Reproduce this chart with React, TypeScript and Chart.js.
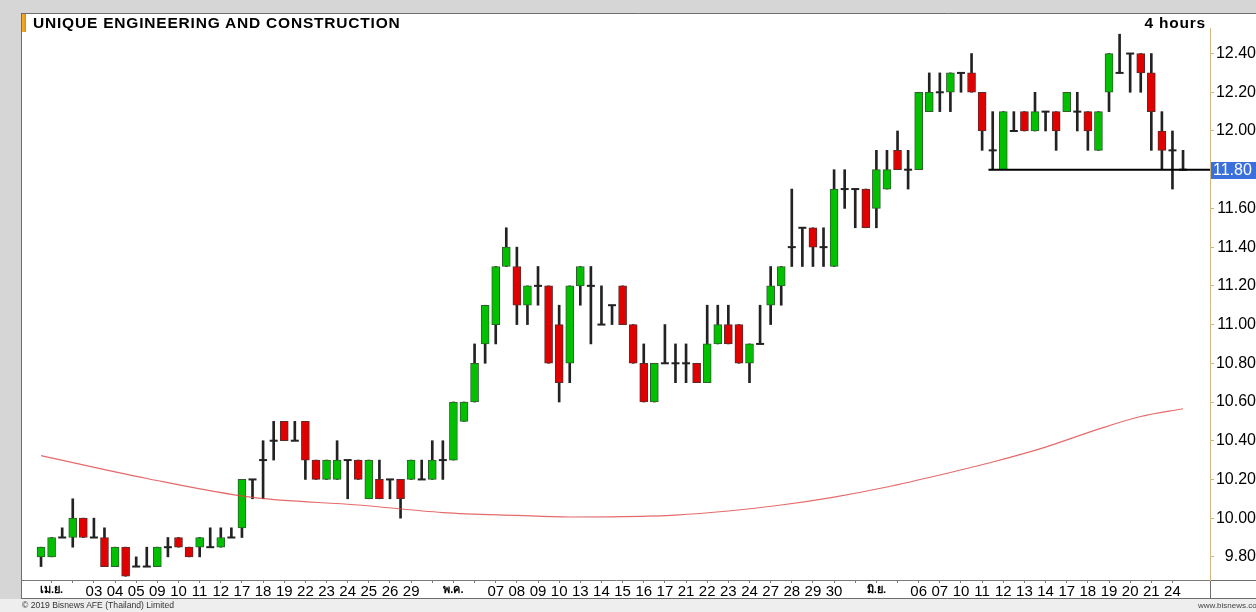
import React, { useEffect, useRef } from "react";
import { Chart, registerables } from "chart.js";

Chart.register(...registerables);

// ---- data (4-hour bars, THB) ----
const OPEN = [
  9.8, 9.8, 9.9, 9.9, 10.0, 9.9, 9.9, 9.75, 9.85, 9.75,
  9.75, 9.75, 9.85, 9.9, 9.85, 9.85, 9.85, 9.85, 9.9, 9.95,
  10.2, 10.3, 10.4, 10.5, 10.4, 10.5, 10.3, 10.2, 10.2, 10.3,
  10.3, 10.1, 10.2, 10.2, 10.2, 10.2, 10.2, 10.2, 10.3, 10.3,
  10.5, 10.6, 10.9, 11.0, 11.3, 11.3, 11.1, 11.2, 11.2, 11.0,
  10.8, 11.2, 11.2, 11.0, 11.1, 11.2, 11.0, 10.8, 10.6, 10.8,
  10.8, 10.8, 10.8, 10.7, 10.9, 11.0, 11.0, 10.8, 10.9, 11.1,
  11.2, 11.4, 11.5, 11.5, 11.4, 11.3, 11.7, 11.7, 11.7, 11.6,
  11.7, 11.9, 11.8, 11.8, 12.1, 12.2, 12.2, 12.3, 12.3, 12.2,
  11.9, 11.8, 12.0, 12.1, 12.0, 12.1, 12.1, 12.1, 12.1, 12.1,
  11.9, 12.2, 12.3, 12.4, 12.4, 12.3, 12.0, 11.9, 11.8,
];
const HIGH = [
  9.85, 9.9, 9.95, 10.1, 10.0, 10.0, 9.95, 9.85, 9.85, 9.8,
  9.85, 9.85, 9.9, 9.9, 9.85, 9.9, 9.95, 9.95, 9.95, 10.2,
  10.2, 10.4, 10.5, 10.5, 10.5, 10.5, 10.3, 10.3, 10.4, 10.3,
  10.3, 10.3, 10.3, 10.2, 10.2, 10.3, 10.3, 10.4, 10.4, 10.6,
  10.6, 10.9, 11.1, 11.3, 11.5, 11.4, 11.2, 11.3, 11.2, 11.1,
  11.2, 11.3, 11.3, 11.2, 11.1, 11.2, 11.0, 10.9, 10.8, 11.0,
  10.9, 10.9, 10.8, 11.1, 11.1, 11.1, 11.0, 10.9, 11.1, 11.3,
  11.3, 11.7, 11.5, 11.5, 11.5, 11.8, 11.8, 11.7, 11.7, 11.9,
  11.9, 12.0, 11.9, 12.2, 12.3, 12.3, 12.3, 12.3, 12.4, 12.2,
  12.1, 12.1, 12.1, 12.1, 12.2, 12.1, 12.1, 12.2, 12.2, 12.1,
  12.1, 12.4, 12.5, 12.4, 12.4, 12.4, 12.1, 12.0, 11.9,
];
const LOW = [
  9.75, 9.8, 9.9, 9.85, 9.9, 9.9, 9.75, 9.75, 9.7, 9.75,
  9.75, 9.75, 9.8, 9.85, 9.8, 9.8, 9.85, 9.85, 9.9, 9.9,
  10.1, 10.1, 10.3, 10.4, 10.4, 10.2, 10.2, 10.2, 10.2, 10.1,
  10.2, 10.1, 10.1, 10.1, 10.0, 10.2, 10.2, 10.2, 10.2, 10.3,
  10.5, 10.6, 10.8, 10.9, 11.3, 11.0, 11.0, 11.1, 10.8, 10.6,
  10.7, 11.1, 10.9, 11.0, 11.0, 11.0, 10.8, 10.6, 10.6, 10.8,
  10.7, 10.7, 10.7, 10.7, 10.9, 10.9, 10.8, 10.7, 10.9, 11.0,
  11.1, 11.3, 11.3, 11.3, 11.3, 11.3, 11.6, 11.5, 11.5, 11.5,
  11.7, 11.8, 11.7, 11.8, 12.1, 12.1, 12.1, 12.2, 12.2, 11.9,
  11.8, 11.8, 12.0, 12.0, 12.0, 12.0, 11.9, 12.1, 12.0, 11.9,
  11.9, 12.1, 12.3, 12.2, 12.2, 11.9, 11.8, 11.7, 11.8,
];
const CLOSE = [
  9.85, 9.9, 9.9, 10.0, 9.9, 9.9, 9.75, 9.85, 9.7, 9.75,
  9.75, 9.85, 9.85, 9.85, 9.8, 9.9, 9.85, 9.9, 9.9, 10.2,
  10.2, 10.3, 10.4, 10.4, 10.4, 10.3, 10.2, 10.3, 10.3, 10.3,
  10.2, 10.3, 10.1, 10.2, 10.1, 10.3, 10.2, 10.3, 10.3, 10.6,
  10.6, 10.8, 11.1, 11.3, 11.4, 11.1, 11.2, 11.2, 10.8, 10.7,
  11.2, 11.3, 11.2, 11.0, 11.1, 11.0, 10.8, 10.6, 10.8, 10.8,
  10.8, 10.8, 10.7, 10.9, 11.0, 10.9, 10.8, 10.9, 10.9, 11.2,
  11.3, 11.4, 11.5, 11.4, 11.4, 11.7, 11.7, 11.7, 11.5, 11.8,
  11.8, 11.8, 11.8, 12.2, 12.2, 12.2, 12.3, 12.3, 12.2, 12.0,
  11.9, 12.1, 12.0, 12.0, 12.1, 12.1, 12.0, 12.2, 12.1, 12.0,
  12.1, 12.4, 12.3, 12.4, 12.3, 12.1, 11.9, 11.9, 11.8,
];

// moving average, read at selected bar indices
const MA_INDEX = [0, 10, 20, 30, 38, 45, 50, 55, 60, 65, 70, 75, 80, 85, 90, 95, 100, 104, 108];
const MA_VALUE = [
  10.323, 10.205, 10.107, 10.068, 10.029, 10.014, 10.006, 10.008, 10.016, 10.037,
  10.068, 10.109, 10.161, 10.223, 10.29, 10.367, 10.46, 10.525, 10.565,
];

// one label per trading day (two 4-hour bars per day)
const DAY_LABELS = [
  "เม.ย.", "", "03", "04", "05", "09", "10", "11", "12", "17", "18", "19", "22", "23", "24", "25", "26", "29", "",
  "พ.ค.", "", "07", "08", "09", "10", "13", "14", "15", "16", "17", "21", "22", "23", "24", "27", "28", "29", "30", "",
  "มิ.ย.", "", "06", "07", "10", "11", "12", "13", "14", "17", "18", "19", "20", "21", "24",
];
const Y_TICKS = [9.8, 10.0, 10.2, 10.4, 10.6, 10.8, 11.0, 11.2, 11.4, 11.6, 11.8, 12.0, 12.2, 12.4];

const SUPPORT_LEVEL = 11.8;
const SUPPORT_FROM = 89.6;

const TITLE = "UNIQUE ENGINEERING AND CONSTRUCTION";
const PERIOD = "4 hours";
const COPYRIGHT = "© 2019 Bisnews AFE (Thailand) Limited";
const SITE = "www.bisnews.com";

// ---- view ----
const X_MIN = -1.8;
const X_MAX = 110.55;
const Y_MIN = 9.6805;
const Y_MAX = 12.532;
const FONT = "'Liberation Sans', Arial, Helvetica, sans-serif";
const GREEN = "#00c000";
const RED = "#e00000";

const isThai = (s: string) => /[\u0E00-\u0E7F]/.test(s);

const framePlugin = {
  id: "frame",
  beforeDraw(chart: any) {
    const { ctx, chartArea: a, width, height } = chart;
    ctx.save();
    ctx.fillStyle = "#d6d6d6";
    ctx.fillRect(0, 0, width, height);
    ctx.fillStyle = "#ffffff";
    ctx.fillRect(a.left, 13, width - a.left, a.bottom + 18 - 13);
    ctx.fillStyle = "#eeeeee";
    ctx.fillRect(0, a.bottom + 19, width, height - a.bottom - 19);
    ctx.strokeStyle = "#6e6e6e";
    ctx.lineWidth = 1;
    ctx.beginPath();
    ctx.moveTo(a.left - 0.5, 13.5);
    ctx.lineTo(width, 13.5);
    ctx.moveTo(a.left - 0.5, 13);
    ctx.lineTo(a.left - 0.5, a.bottom + 19);
    ctx.moveTo(a.left, a.bottom + 18.5);
    ctx.lineTo(width, a.bottom + 18.5);
    ctx.moveTo(a.right, a.bottom + 0.5);
    ctx.lineTo(width, a.bottom + 0.5);
    ctx.moveTo(a.right + 0.5, a.bottom);
    ctx.lineTo(a.right + 0.5, a.bottom + 18);
    ctx.stroke();
    ctx.restore();
  },
  afterDraw(chart: any) {
    const { ctx, chartArea: a, width } = chart;
    const y = chart.scales.y.getPixelForValue(SUPPORT_LEVEL);
    ctx.save();
    ctx.fillStyle = "#3b6fdc";
    ctx.fillRect(a.right + 1, Math.round(y) - 8, width - a.right - 1, 17);
    ctx.fillStyle = "#ffffff";
    ctx.font = `16px ${FONT}`;
    ctx.textAlign = "left";
    ctx.textBaseline = "middle";
    ctx.fillText(SUPPORT_LEVEL.toFixed(2), a.right + 3, Math.round(y) + 1);
    ctx.restore();
  },
};

export default function App() {
  const canvasRef = useRef<HTMLCanvasElement | null>(null);

  useEffect(() => {
    const canvas = canvasRef.current;
    if (!canvas) return;
    const dayTicks = DAY_LABELS.map((_, d) => 2 * d + 1);

    const chart = new Chart(canvas, {
      type: "bar",
      data: {
        datasets: [
          {
            type: "line",
            label: "support",
            data: [
              { x: SUPPORT_FROM, y: SUPPORT_LEVEL },
              { x: X_MAX, y: SUPPORT_LEVEL },
            ],
            borderColor: "#000000",
            borderWidth: 2,
            pointRadius: 0,
            order: 0,
          } as any,
          {
            type: "line",
            label: "ma",
            data: MA_INDEX.map((x, k) => ({ x, y: MA_VALUE[k] })),
            borderColor: "rgba(222, 70, 70, 0.8)",
            borderWidth: 1.2,
            pointRadius: 0,
            tension: 0.4,
            cubicInterpolationMode: "monotone",
            order: 1,
          } as any,
          {
            type: "line",
            label: "doji",
            data: CLOSE.map((c, i) => ({ x: i, y: c })),
            showLine: false,
            pointStyle: "line",
            pointRadius: OPEN.map((o, i) => (o === CLOSE[i] ? 4 : 0)),
            pointBorderColor: "#222222",
            pointBorderWidth: 2,
            order: 2,
          } as any,
          {
            type: "bar",
            label: "body",
            data: OPEN.map((o, i) => ({ x: i, y: [o, CLOSE[i]] })),
            backgroundColor: OPEN.map((o, i) => (CLOSE[i] > o ? GREEN : RED)),
            borderColor: OPEN.map((o, i) => (CLOSE[i] > o ? "#2f5f2f" : "#5f2a2a")),
            borderWidth: 1,
            borderSkipped: false,
            barThickness: 8,
            grouped: false,
            order: 3,
          } as any,
          {
            type: "bar",
            label: "wick",
            data: LOW.map((l, i) => ({ x: i, y: [l, HIGH[i]] })),
            backgroundColor: "#222222",
            borderWidth: 0,
            barThickness: 2,
            grouped: false,
            order: 4,
          } as any,
        ],
      },
      options: {
        animation: false,
        responsive: false,
        maintainAspectRatio: false,
        devicePixelRatio: 1,
        layout: { padding: { left: 22, top: 28, right: 0, bottom: 14 } },
        plugins: {
          legend: { display: false },
          tooltip: { enabled: false },
          title: { display: false },
        },
        scales: {
          x: {
            type: "linear",
            min: X_MIN,
            max: X_MAX,
            offset: false,
            afterBuildTicks: (s: any) => {
              s.ticks = dayTicks.map((v) => ({ value: v }));
            },
            afterFit: (s: any) => {
              s.height = 18;
            },
            grid: { drawOnChartArea: false, drawTicks: true, tickLength: 3, color: "#7a7a7a", offset: false },
            border: { display: true, color: "#7a7a7a" },
            ticks: {
              autoSkip: false,
              maxRotation: 0,
              minRotation: 0,
              padding: 0,
              color: "#000000",
              callback: (_v: any, i: number) => DAY_LABELS[i],
              font: (c: any) =>
                isThai(DAY_LABELS[c.index] || "")
                  ? { family: FONT, size: 11, weight: "bold" }
                  : { family: FONT, size: 15 },
            },
          } as any,
          y: {
            type: "linear",
            position: "right",
            min: Y_MIN,
            max: Y_MAX,
            beginAtZero: false,
            afterBuildTicks: (s: any) => {
              s.ticks = Y_TICKS.map((v) => ({ value: v }));
            },
            afterFit: (s: any) => {
              s.width = 46;
            },
            grid: { drawOnChartArea: false, drawTicks: true, tickLength: 4, color: "#cdb583" },
            border: { display: true, color: "#d2b97f", dash: [1, 1] },
            ticks: {
              crossAlign: "far",
              padding: 0,
              color: "#000000",
              font: { family: FONT, size: 16 },
              callback: (v: any) => Number(v).toFixed(2),
            },
          } as any,
        },
      },
      plugins: [framePlugin],
    });
    return () => chart.destroy();
  }, []);

  return (
    <div style={{ position: "absolute", left: 0, top: 0, width: 1256, height: 612, overflow: "hidden" }}>
      <canvas ref={canvasRef} width={1256} height={612} style={{ position: "absolute", left: 0, top: 0 }} />
      <div
        style={{
          position: "absolute", left: 22, top: 14, width: 4, height: 18,
          background: "linear-gradient(90deg, #f7b030, #e88a10)",
        }}
      />
      <div
        style={{
          position: "absolute", left: 33, top: 14, fontFamily: FONT, fontWeight: "bold",
          fontSize: 15.5, letterSpacing: 0.8, lineHeight: "17px", color: "#000", whiteSpace: "nowrap",
        }}
      >
        {TITLE}
      </div>
      <div
        style={{
          position: "absolute", right: 50, top: 14, fontFamily: FONT, fontWeight: "bold",
          fontSize: 15.5, letterSpacing: 0.8, lineHeight: "17px", color: "#000", whiteSpace: "nowrap",
        }}
      >
        {PERIOD}
      </div>
      <div
        style={{
          position: "absolute", left: 22, top: 599, fontFamily: FONT, fontSize: 8.6,
          lineHeight: "12px", color: "#333", whiteSpace: "nowrap",
        }}
      >
        {COPYRIGHT}
      </div>
      <div
        style={{
          position: "absolute", left: 1198, top: 600, fontFamily: FONT, fontSize: 8,
          lineHeight: "11px", color: "#444", whiteSpace: "nowrap",
        }}
      >
        {SITE}
      </div>
    </div>
  );
}
